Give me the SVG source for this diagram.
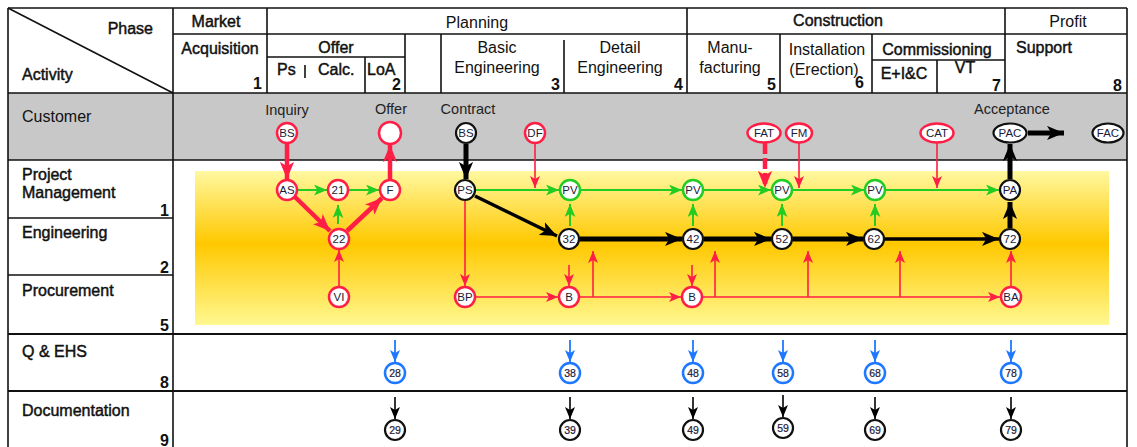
<svg xmlns="http://www.w3.org/2000/svg" width="1137" height="447" viewBox="0 0 1137 447">
  <style>
    text { font-family: "Liberation Sans", Arial, sans-serif; fill: #111; }
    .hb { font-size: 16px; stroke: #111; stroke-width: 0.45; }
    .hr { font-size: 16px; }
    .num { font-size: 16px; font-weight: bold; }
    .lbl { font-size: 14.5px; fill: #222; }
    .grid { stroke: #111; stroke-width: 1.6; fill: none; }
    .nt { font-size: 11.5px; fill: #1a1a3a; text-anchor: middle; dominant-baseline: central; }
    .ns { font-size: 10.5px; fill: #1a1a3a; stroke: #1a1a3a; stroke-width: 0.2; text-anchor: middle; dominant-baseline: central; }
    .nr { fill: #fff; stroke: #ff1e46; stroke-width: 2.5; }
    .nk { fill: #fff; stroke: #111; stroke-width: 2.2; }
    .ng { fill: #fff; stroke: #22cc22; stroke-width: 2.5; }
    .nb { fill: #fff; stroke: #1e78ff; stroke-width: 2.5; }
    .cRedBig { stroke: #ff1e46; stroke-width: 4.5; fill: none; marker-end: url(#mRedBig); }
    .cRed { stroke: #ff1e46; stroke-width: 1.6; fill: none; marker-end: url(#mRed); }
    .cGreen { stroke: #22cc22; stroke-width: 2; fill: none; marker-end: url(#mGreen); }
    .cBlackBig { stroke: #000; stroke-width: 5; fill: none; marker-end: url(#mBlackBig); }
    .cBlackMid { stroke: #000; stroke-width: 3.5; fill: none; marker-end: url(#mBlackBig); }
    .cBlack { stroke: #000; stroke-width: 1.6; fill: none; marker-end: url(#mBlack); }
    .cBlue { stroke: #1e78ff; stroke-width: 1.8; fill: none; marker-end: url(#mBlue); }
  </style>
  <defs>
    <linearGradient id="band" x1="0" y1="0" x2="0" y2="1">
      <stop offset="0" stop-color="#fff8a0"/>
      <stop offset="0.47" stop-color="#ffc800"/>
      <stop offset="1" stop-color="#fff890"/>
    </linearGradient>
    <marker id="mRedBig" viewBox="0 0 12 10" refX="12" refY="5" markerWidth="17" markerHeight="15" markerUnits="userSpaceOnUse" orient="auto">
      <path d="M0,0 L12,5 L0,10 L3,5 z" fill="#ff1e46"/>
    </marker>
    <marker id="mRed" viewBox="0 0 12 10" refX="12" refY="5" markerWidth="12" markerHeight="11" markerUnits="userSpaceOnUse" orient="auto">
      <path d="M0,0 L12,5 L0,10 L3,5 z" fill="#ff1e46"/>
    </marker>
    <marker id="mGreen" viewBox="0 0 12 10" refX="12" refY="5" markerWidth="13" markerHeight="11" markerUnits="userSpaceOnUse" orient="auto">
      <path d="M0,0 L12,5 L0,10 L3,5 z" fill="#22cc22"/>
    </marker>
    <marker id="mBlackBig" viewBox="0 0 12 10" refX="12" refY="5" markerWidth="17" markerHeight="15" markerUnits="userSpaceOnUse" orient="auto">
      <path d="M0,0 L12,5 L0,10 L3,5 z" fill="#000"/>
    </marker>
    <marker id="mBlack" viewBox="0 0 12 10" refX="12" refY="5" markerWidth="12" markerHeight="11" markerUnits="userSpaceOnUse" orient="auto">
      <path d="M0,0 L12,5 L0,10 L3,5 z" fill="#000"/>
    </marker>
    <marker id="mBlue" viewBox="0 0 12 10" refX="12" refY="5" markerWidth="12" markerHeight="11" markerUnits="userSpaceOnUse" orient="auto">
      <path d="M0,0 L12,5 L0,10 L3,5 z" fill="#1e78ff"/>
    </marker>
  </defs>

  <rect width="1137" height="447" fill="#fff"/>

  <!-- backgrounds -->
  <rect x="8" y="93" width="1119" height="67" fill="#c8c8c8"/>
  <rect x="195" y="171" width="914" height="154" fill="url(#band)"/>

  <!-- table grid -->
  <g id="grid" class="grid">
    <line x1="8" y1="8" x2="1127" y2="8"/>
    <line x1="8" y1="8" x2="8" y2="447"/>
    <line x1="1127" y1="8" x2="1127" y2="447"/>
    <line x1="173" y1="8" x2="173" y2="447"/>
    <line x1="8" y1="8" x2="173" y2="93"/>
    <line x1="173" y1="34" x2="1127" y2="34"/>
    <line x1="8" y1="93" x2="1127" y2="93"/>
    <line x1="267" y1="8" x2="267" y2="93"/>
    <line x1="687" y1="8" x2="687" y2="93"/>
    <line x1="1005" y1="8" x2="1005" y2="93"/>
    <line x1="267" y1="57" x2="405" y2="57"/>
    <line x1="305" y1="65" x2="305" y2="78"/>
    <line x1="365" y1="57" x2="365" y2="93"/>
    <line x1="405" y1="34" x2="405" y2="93"/>
    <line x1="441" y1="34" x2="441" y2="93"/>
    <line x1="564" y1="40" x2="564" y2="93"/>
    <line x1="780" y1="34" x2="780" y2="93"/>
    <line x1="872" y1="34" x2="872" y2="93"/>
    <line x1="872" y1="60" x2="1005" y2="60"/>
    <line x1="937" y1="60" x2="937" y2="93"/>
    <line x1="8" y1="160" x2="1127" y2="160"/>
    <line x1="8" y1="218" x2="173" y2="218"/>
    <line x1="8" y1="275" x2="173" y2="275"/>
    <line x1="8" y1="334" x2="1127" y2="334" stroke-width="2.2"/>
    <line x1="8" y1="391" x2="1127" y2="391" stroke-width="2.2"/>
  </g>

  <!-- header texts -->
  <g id="header">
    <text class="hb" x="153" y="34" text-anchor="end">Phase</text>
    <text class="hb" x="22" y="80">Activity</text>
    <text class="hb" x="216" y="27" text-anchor="middle">Market</text>
    <text class="hb" x="220" y="54" text-anchor="middle">Acquisition</text>
    <text class="num" x="262" y="89" text-anchor="end">1</text>
    <text class="hb" x="336" y="53" text-anchor="middle">Offer</text>
    <text class="hb" x="277" y="75">Ps</text>
    <text class="hb" x="318" y="75">Calc.</text>
    <text class="hb" x="367" y="75">LoA</text>
    <text class="num" x="401" y="90" text-anchor="end">2</text>
    <text class="hr" x="477" y="28" text-anchor="middle">Planning</text>
    <text class="hr" x="497" y="53" text-anchor="middle">Basic</text>
    <text class="hr" x="497" y="73" text-anchor="middle">Engineering</text>
    <text class="num" x="560" y="90" text-anchor="end">3</text>
    <text class="hr" x="620" y="53" text-anchor="middle">Detail</text>
    <text class="hr" x="620" y="73" text-anchor="middle">Engineering</text>
    <text class="num" x="683" y="90" text-anchor="end">4</text>
    <text class="hr" x="730" y="53" text-anchor="middle">Manu-</text>
    <text class="hr" x="730" y="73" text-anchor="middle">facturing</text>
    <text class="num" x="776" y="90" text-anchor="end">5</text>
    <text class="hb" x="838" y="26" text-anchor="middle">Construction</text>
    <text class="hr" x="827" y="55" text-anchor="middle">Installation</text>
    <text class="hr" x="824" y="75" text-anchor="middle">(Erection)</text>
    <text class="num" x="864" y="88" text-anchor="end">6</text>
    <text class="hb" x="937" y="55" text-anchor="middle">Commissioning</text>
    <text class="hb" x="904" y="79" text-anchor="middle">E+I&amp;C</text>
    <text class="hb" x="965" y="73" text-anchor="middle">VT</text>
    <text class="num" x="1001" y="91" text-anchor="end">7</text>
    <text class="hr" x="1068" y="27" text-anchor="middle">Profit</text>
    <text class="hb" x="1016" y="53">Support</text>
    <text class="num" x="1122" y="91" text-anchor="end">8</text>
  </g>

  <!-- activity column -->
  <g id="activities">
    <text class="hr" x="22" y="122">Customer</text>
    <text class="hb" x="22" y="180">Project</text>
    <text class="hb" x="22" y="198">Management</text>
    <text class="num" x="169" y="216" text-anchor="end">1</text>
    <text class="hb" x="22" y="238">Engineering</text>
    <text class="num" x="169" y="273" text-anchor="end">2</text>
    <text class="hb" x="22" y="296">Procurement</text>
    <text class="num" x="169" y="331" text-anchor="end">5</text>
    <text class="hb" x="22" y="357">Q &amp; EHS</text>
    <text class="num" x="169" y="388" text-anchor="end">8</text>
    <text class="hb" x="22" y="416">Documentation</text>
    <text class="num" x="169" y="446" text-anchor="end">9</text>
  </g>

  <!-- milestone labels -->
  <g id="milestones">
    <text class="lbl" x="287" y="115" text-anchor="middle">Inquiry</text>
    <text class="lbl" x="391" y="114" text-anchor="middle">Offer</text>
    <text class="lbl" x="468" y="114" text-anchor="middle">Contract</text>
    <text class="lbl" x="1012" y="114" text-anchor="middle">Acceptance</text>
  </g>

  <!-- connectors -->
  <g id="connectors">
    <line class="cRedBig" x1="287" y1="144" x2="287" y2="179"/>
    <line class="cGreen" x1="298" y1="190" x2="327" y2="190"/>
    <line class="cGreen" x1="349" y1="190" x2="379" y2="190"/>
    <line class="cRedBig" x1="390" y1="179" x2="390" y2="145"/>
    <line class="cRedBig" x1="295" y1="197" x2="330" y2="231"/>
    <line class="cRedBig" x1="347" y1="231" x2="382" y2="198"/>
    <line class="cGreen" x1="338" y1="224" x2="338" y2="205"/>
    <line class="cRed" x1="339" y1="286" x2="339" y2="250"/>

    <line class="cBlackBig" x1="466" y1="144" x2="466" y2="179"/>
    <line class="cGreen" x1="476" y1="190" x2="559" y2="190"/>
    <line class="cRed" x1="535" y1="144" x2="535" y2="188"/>
    <line class="cGreen" x1="581" y1="190" x2="682" y2="190"/>
    <line class="cGreen" x1="704" y1="190" x2="771" y2="190"/>
    <line class="cRedBig" x1="765" y1="143" x2="765" y2="188" stroke-width="3.5" stroke-dasharray="11 4"/>
    <line class="cRed" x1="799" y1="143" x2="799" y2="188"/>
    <line class="cGreen" x1="793" y1="190" x2="864" y2="190"/>
    <line class="cGreen" x1="886" y1="190" x2="999" y2="190"/>
    <line class="cRed" x1="937" y1="143" x2="937" y2="188"/>
    <line class="cBlackBig" x1="1010" y1="179" x2="1010" y2="144"/>
    <line class="cBlackBig" x1="1028" y1="133" x2="1064" y2="133"/>

    <line class="cGreen" x1="570" y1="226" x2="570" y2="204"/>
    <line class="cGreen" x1="693" y1="226" x2="693" y2="204"/>
    <line class="cGreen" x1="782" y1="226" x2="782" y2="204"/>
    <line class="cGreen" x1="875" y1="226" x2="875" y2="204"/>

    <line class="cBlackMid" x1="475" y1="196" x2="557" y2="236"/>
    <line class="cBlackBig" x1="580" y1="239" x2="682" y2="239"/>
    <line class="cBlackBig" x1="704" y1="239" x2="771" y2="239"/>
    <line class="cBlackBig" x1="793" y1="239" x2="863" y2="239"/>
    <line class="cBlackMid" x1="885" y1="239" x2="999" y2="239"/>
    <line class="cBlackBig" x1="1010" y1="228" x2="1010" y2="202"/>

    <line class="cRed" x1="465" y1="201" x2="465" y2="286"/>
    <line class="cRed" x1="476" y1="297" x2="558" y2="297"/>
    <line class="cRed" x1="569" y1="265" x2="569" y2="286"/>
    <line class="cRed" x1="692" y1="265" x2="692" y2="286"/>
    <line class="cRed" x1="580" y1="297" x2="681" y2="297"/>
    <line class="cRed" x1="593" y1="297" x2="593" y2="251"/>
    <line class="cRed" x1="703" y1="297" x2="1000" y2="297"/>
    <line class="cRed" x1="715" y1="297" x2="715" y2="251"/>
    <line class="cRed" x1="808" y1="297" x2="808" y2="251"/>
    <line class="cRed" x1="900" y1="297" x2="900" y2="251"/>
    <line class="cRed" x1="1011" y1="286" x2="1011" y2="251"/>

    <line class="cBlue" x1="395" y1="340" x2="395" y2="362"/>
    <line class="cBlue" x1="570" y1="340" x2="570" y2="362"/>
    <line class="cBlue" x1="693" y1="340" x2="693" y2="362"/>
    <line class="cBlue" x1="783" y1="340" x2="783" y2="362"/>
    <line class="cBlue" x1="875" y1="340" x2="875" y2="362"/>
    <line class="cBlue" x1="1011" y1="340" x2="1011" y2="362"/>

    <line class="cBlack" x1="395" y1="397" x2="395" y2="419"/>
    <line class="cBlack" x1="570" y1="397" x2="570" y2="419"/>
    <line class="cBlack" x1="693" y1="397" x2="693" y2="419"/>
    <line class="cBlack" x1="783" y1="395" x2="783" y2="417"/>
    <line class="cBlack" x1="875" y1="397" x2="875" y2="419"/>
    <line class="cBlack" x1="1011" y1="397" x2="1011" y2="419"/>
  </g>

  <!-- customer row nodes -->
  <g id="n-inquiry-bs"><circle class="nr" cx="287" cy="133" r="10"/><text class="nt" x="287" y="133">BS</text></g>
  <g id="n-offer"><circle class="nr" cx="390" cy="133" r="11"/></g>
  <g id="n-contract-bs"><circle class="nk" cx="466" cy="133" r="10"/><text class="nt" x="466" y="133">BS</text></g>
  <g id="n-df"><circle class="nr" cx="535" cy="133" r="10"/><text class="nt" x="535" y="133">DF</text></g>
  <g id="n-fat"><ellipse class="nr" cx="764" cy="133" rx="16.5" ry="9.5"/><text class="nt" x="764" y="133">FAT</text></g>
  <g id="n-fm"><ellipse class="nr" cx="799" cy="133" rx="13" ry="9.5"/><text class="nt" x="799" y="133">FM</text></g>
  <g id="n-cat"><ellipse class="nr" cx="937" cy="133" rx="16.5" ry="9.5"/><text class="nt" x="937" y="133">CAT</text></g>
  <g id="n-pac"><ellipse class="nk" cx="1010" cy="133" rx="16.5" ry="9.5"/><text class="nt" x="1010" y="133">PAC</text></g>
  <g id="n-fac"><ellipse class="nk" cx="1108" cy="133" rx="15.5" ry="9.5"/><text class="nt" x="1108" y="133">FAC</text></g>

  <!-- project management row -->
  <g id="n-as"><circle class="nr" cx="287" cy="190" r="10"/><text class="nt" x="287" y="190">AS</text></g>
  <g id="n-21"><circle class="nr" cx="338" cy="190" r="10"/><text class="nt" x="338" y="190">21</text></g>
  <g id="n-f"><circle class="nr" cx="390" cy="190" r="10"/><text class="nt" x="390" y="190">F</text></g>
  <g id="n-ps"><circle class="nk" cx="465" cy="190" r="10"/><text class="nt" x="465" y="190">PS</text></g>
  <g id="n-pv3"><circle class="ng" cx="570" cy="190" r="10"/><text class="nt" x="570" y="190">PV</text></g>
  <g id="n-pv4"><circle class="ng" cx="693" cy="190" r="10"/><text class="nt" x="693" y="190">PV</text></g>
  <g id="n-pv5"><circle class="ng" cx="782" cy="190" r="10"/><text class="nt" x="782" y="190">PV</text></g>
  <g id="n-pv6"><circle class="ng" cx="875" cy="190" r="10"/><text class="nt" x="875" y="190">PV</text></g>
  <g id="n-pa"><circle class="nk" cx="1010" cy="190" r="10"/><text class="nt" x="1010" y="190">PA</text></g>

  <!-- engineering row -->
  <g id="n-22"><circle class="nr" cx="339" cy="239" r="10"/><text class="nt" x="339" y="239">22</text></g>
  <g id="n-32"><circle class="nk" cx="569" cy="239" r="10"/><text class="nt" x="569" y="239">32</text></g>
  <g id="n-42"><circle class="nk" cx="693" cy="239" r="10"/><text class="nt" x="693" y="239">42</text></g>
  <g id="n-52"><circle class="nk" cx="782" cy="239" r="10"/><text class="nt" x="782" y="239">52</text></g>
  <g id="n-62"><circle class="nk" cx="874" cy="239" r="10"/><text class="nt" x="874" y="239">62</text></g>
  <g id="n-72"><circle class="nk" cx="1010" cy="239" r="10"/><text class="nt" x="1010" y="239">72</text></g>

  <!-- procurement row -->
  <g id="n-vi"><circle class="nr" cx="339" cy="297" r="10"/><text class="nt" x="339" y="297">VI</text></g>
  <g id="n-bp"><circle class="nr" cx="465" cy="297" r="10"/><text class="nt" x="465" y="297">BP</text></g>
  <g id="n-b3"><circle class="nr" cx="569" cy="297" r="10"/><text class="nt" x="569" y="297">B</text></g>
  <g id="n-b4"><circle class="nr" cx="692" cy="297" r="10"/><text class="nt" x="692" y="297">B</text></g>
  <g id="n-ba"><circle class="nr" cx="1011" cy="297" r="10"/><text class="nt" x="1011" y="297">BA</text></g>

  <!-- Q & EHS row -->
  <g id="n-28"><circle class="nb" cx="395" cy="373" r="10"/><text class="ns" x="395" y="373">28</text></g>
  <g id="n-38"><circle class="nb" cx="570" cy="373" r="10"/><text class="ns" x="570" y="373">38</text></g>
  <g id="n-48"><circle class="nb" cx="693" cy="373" r="10"/><text class="ns" x="693" y="373">48</text></g>
  <g id="n-58"><circle class="nb" cx="783" cy="373" r="10"/><text class="ns" x="783" y="373">58</text></g>
  <g id="n-68"><circle class="nb" cx="875" cy="373" r="10"/><text class="ns" x="875" y="373">68</text></g>
  <g id="n-78"><circle class="nb" cx="1011" cy="373" r="10"/><text class="ns" x="1011" y="373">78</text></g>

  <!-- documentation row -->
  <g id="n-29"><circle class="nk" cx="395" cy="430" r="10"/><text class="ns" x="395" y="430">29</text></g>
  <g id="n-39"><circle class="nk" cx="570" cy="430" r="10"/><text class="ns" x="570" y="430">39</text></g>
  <g id="n-49"><circle class="nk" cx="693" cy="430" r="10"/><text class="ns" x="693" y="430">49</text></g>
  <g id="n-59"><circle class="nk" cx="783" cy="428" r="10"/><text class="ns" x="783" y="428">59</text></g>
  <g id="n-69"><circle class="nk" cx="875" cy="430" r="10"/><text class="ns" x="875" y="430">69</text></g>
  <g id="n-79"><circle class="nk" cx="1011" cy="430" r="10"/><text class="ns" x="1011" y="430">79</text></g>
</svg>
